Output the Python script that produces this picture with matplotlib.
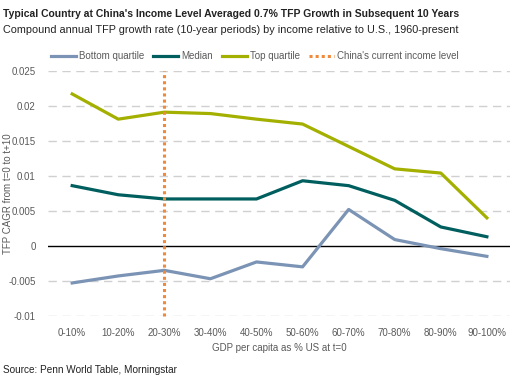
import numpy as np
import matplotlib
matplotlib.use("Agg")
import matplotlib.pyplot as plt

# ==========================================
# DATA
# ==========================================
categories = ["0-10%", "10-20%", "20-30%", "30-40%", "40-50%",
              "50-60%", "60-70%", "70-80%", "80-90%", "90-100%"]
bottom_quartile = [-0.0053, -0.0043, -0.0035, -0.0047, -0.0023,
                   -0.0030, 0.0052, 0.0009, -0.0004, -0.0015]
median = [0.0086, 0.0073, 0.0067, 0.0067, 0.0067,
          0.0093, 0.0086, 0.0065, 0.0027, 0.0013]
top_quartile = [0.0217, 0.0181, 0.0191, 0.0189, 0.0181,
                0.0174, 0.0142, 0.0110, 0.0104, 0.0040]
china_category = "20-30%"
yticks = [-0.01, -0.005, 0, 0.005, 0.01, 0.015, 0.02, 0.025]
ytick_labels = ["-0.01", "-0.005", "0", "0.005", "0.01", "0.015", "0.02", "0.025"]

# ==========================================
# STYLE
# ==========================================
plt.rcParams["font.family"] = ["Liberation Sans", "DejaVu Sans"]
c_bottom = "#7b93b4"
c_median = "#005f5e"
c_top = "#a4b000"
c_china = "#f0893a"
c_text = "#5a5a5a"

fig = plt.figure(figsize=(5.13, 3.81), dpi=100)
ax = fig.add_axes([0.094, 0.171, 0.9, 0.643])

x = np.arange(len(categories))

for v in yticks:
    if v == 0:
        ax.axhline(v, color="black", lw=1.0, zorder=1)
    else:
        ax.axhline(v, color="#d0d0d0", lw=1.0, ls=(0, (6, 4)), zorder=0)

ax.plot(x, bottom_quartile, color=c_bottom, lw=2.3, label="Bottom quartile", zorder=3)
ax.plot(x, median, color=c_median, lw=2.3, label="Median", zorder=3)
ax.plot(x, top_quartile, color=c_top, lw=2.3, label="Top quartile", zorder=3)
cx = categories.index(china_category)
ax.vlines(cx, yticks[0], yticks[-1], colors=c_china, lw=2.2,
          linestyles=(0, (1, 1)), label="China's current income level",
          zorder=4, clip_on=False)

ax.set_xlim(-0.52, 9.5)
ax.set_ylim(yticks[0], yticks[-1])
ax.set_yticks(yticks)
ax.set_yticklabels(ytick_labels)
ax.set_xticks(x)
ax.set_xticklabels(categories)
ax.tick_params(length=0, labelsize=7, labelcolor=c_text)
ax.tick_params(axis="y", pad=9)
ax.tick_params(axis="x", pad=9)
for s in ax.spines.values():
    s.set_visible(False)

ax.set_ylabel("TFP CAGR from t=0 to t+10", fontsize=7, color=c_text)
ax.yaxis.set_label_coords(-0.076, 0.5)
ax.set_xlabel("GDP per capita as % US at t=0", fontsize=7, color=c_text, labelpad=3)

# ==========================================
# TITLES / LEGEND / SOURCE
# ==========================================
fig.text(0.006, 0.962, "Typical Country at China's Income Level Averaged 0.7% TFP Growth in Subsequent 10 Years",
         fontsize=7.5, fontweight="bold", color="#222222", va="center")
fig.text(0.006, 0.92, "Compound annual TFP growth rate (10-year periods) by income relative to U.S., 1960-present",
         fontsize=7.8, color="#222222", va="center")
fig.legend(loc="center left", bbox_to_anchor=(0.082, 0.852), ncol=4, frameon=False,
           fontsize=7, handlelength=2.6, handletextpad=0.3, columnspacing=0.9,
           labelcolor=c_text)
fig.text(0.006, 0.03, "Source: Penn World Table, Morningstar", fontsize=7.2,
         color="#222222", va="center")

fig.savefig("out.png", dpi=100)
